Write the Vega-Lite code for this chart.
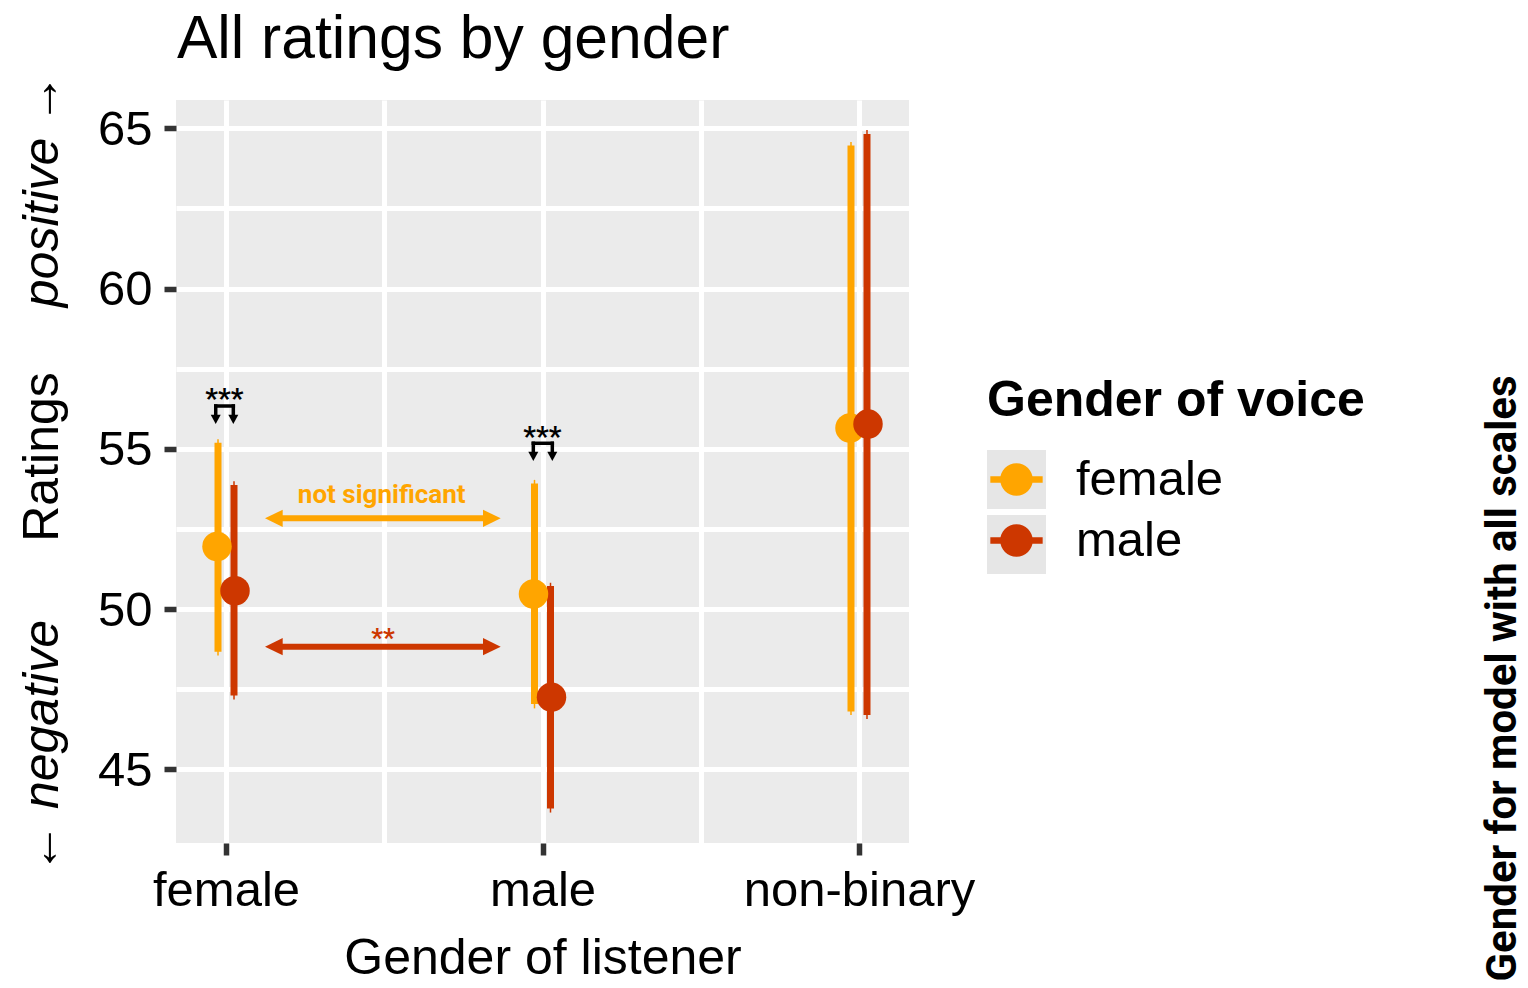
{
  "$schema": "https://vega.github.io/schema/vega-lite/v6.json",
  "width": 733,
  "height": 743,
  "autosize": {"type": "none"},
  "padding": {"left": 176, "top": 100, "right": 619, "bottom": 145},
  "view": {"fill": "#EBEBEB", "stroke": null},
  "datasets": {
    "ratings": [
      {"listener": "female", "voice": "female", "mean": 51.95, "lo": 48.67, "hi": 55.19, "lo_outer": 48.55, "hi_outer": 55.30},
      {"listener": "female", "voice": "male", "mean": 50.57, "lo": 47.30, "hi": 53.87, "lo_outer": 47.18, "hi_outer": 53.99},
      {"listener": "male", "voice": "female", "mean": 50.47, "lo": 47.04, "hi": 53.92, "lo_outer": 46.90, "hi_outer": 54.03},
      {"listener": "male", "voice": "male", "mean": 47.25, "lo": 43.78, "hi": 50.72, "lo_outer": 43.65, "hi_outer": 50.82},
      {"listener": "non-binary", "voice": "female", "mean": 55.65, "lo": 46.80, "hi": 64.46, "lo_outer": 46.69, "hi_outer": 64.57},
      {"listener": "non-binary", "voice": "male", "mean": 55.77, "lo": 46.69, "hi": 64.82, "lo_outer": 46.57, "hi_outer": 64.95}
    ],
    "arrows": [
      {"voice": "female", "x": 1.1512, "x2": 1.84, "y": 52.83},
      {"voice": "male", "x": 1.1512, "x2": 1.84, "y": 48.825}
    ],
    "arrowHeads": [
      {"voice": "female", "side": "left", "x": 1.1512, "y": 52.83},
      {"voice": "female", "side": "right", "x": 1.84, "y": 52.83},
      {"voice": "male", "side": "left", "x": 1.1512, "y": 48.825},
      {"voice": "male", "side": "right", "x": 1.84, "y": 48.825}
    ],
    "arrowLabels": [
      {"voice": "female", "label": "not significant", "x": 1.492, "y": 53.30},
      {"voice": "male", "label": "**", "x": 1.496, "y": 48.80}
    ],
    "stars": [
      {"label": "***", "x": 0.9946, "y": 56.27},
      {"label": "***", "x": 1.9994, "y": 55.08}
    ],
    "brackets": [
      {"x": 0.9675, "x2": 1.0231, "y": 56.335, "y2": 56.335},
      {"x": 0.9675, "x2": 0.9675, "y": 56.335, "y2": 56.06},
      {"x": 1.0231, "x2": 1.0231, "y": 56.335, "y2": 56.06},
      {"x": 1.971, "x2": 2.031, "y": 55.172, "y2": 55.172},
      {"x": 1.971, "x2": 1.971, "y": 55.172, "y2": 54.91},
      {"x": 2.031, "x2": 2.031, "y": 55.172, "y2": 54.91}
    ],
    "bracketHeads": [
      {"x": 0.9675, "y": 55.919},
      {"x": 1.0231, "y": 55.919},
      {"x": 1.971, "y": 54.765},
      {"x": 2.031, "y": 54.765}
    ],
    "keys": [
      {"key": "female"},
      {"key": "male"}
    ]
  },
  "layer": [
    {
      "data": {"name": "ratings"},
      "mark": {"type": "rule", "strokeWidth": 1.5},
      "encoding": {
        "x": {"field": "listener", "type": "nominal", "scale": {"type": "point", "domain": ["female", "male", "non-binary"], "padding": 0.158},
              "axis": {"orient": "bottom", "title": "Gender of listener", "labelAngle": 0, "labelPadding": 50, "labelBaseline": "alphabetic", "titleY": 130, "titleBaseline": "alphabetic", "grid": true}},
        "xOffset": {"field": "voice", "type": "nominal", "scale": {"type": "point", "domain": ["female", "male"], "range": [-8, 8], "padding": 0}},
        "y": {"field": "lo_outer", "type": "quantitative", "scale": {"domain": [42.70, 65.883], "nice": false, "zero": false},
              "axis": {"orient": "left", "title": "Ratings", "values": [45, 50, 55, 60, 65], "grid": true, "labelPadding": 12, "labelOffset": 1, "titleX": -119, "titleY": 356.5, "titleAngle": 270, "titleAlign": "center", "titleBaseline": "alphabetic"}},
        "y2": {"field": "hi_outer"},
        "color": {"field": "voice", "type": "nominal", "scale": {"domain": ["female", "male"], "range": ["#FFA500", "#CD3700"]}}
      }
    },
    {
      "data": {"name": "ratings"},
      "mark": {"type": "rule", "strokeWidth": 7, "strokeCap": "butt"},
      "encoding": {
        "x": {"field": "listener", "type": "nominal", "scale": {"type": "point", "domain": ["female", "male", "non-binary"], "padding": 0.158}, "axis": null},
        "xOffset": {"field": "voice", "type": "nominal", "scale": {"type": "point", "domain": ["female", "male"], "range": [-8, 8], "padding": 0}},
        "y": {"field": "lo", "type": "quantitative", "scale": {"domain": [42.70, 65.883], "nice": false, "zero": false},
              "axis": {"orient": "left", "values": [47.5, 52.5, 57.5, 62.5], "grid": true, "labels": false, "ticks": false, "domain": false, "title": null}},
        "y2": {"field": "hi"},
        "color": {"field": "voice", "type": "nominal"}
      }
    },
    {
      "data": {"name": "ratings"},
      "mark": {"type": "point", "filled": true, "opacity": 1, "size": 870, "strokeWidth": 0},
      "encoding": {
        "x": {"field": "listener", "type": "nominal", "scale": {"type": "point", "domain": ["female", "male", "non-binary"], "padding": 0.158}, "axis": null},
        "xOffset": {"field": "voice", "type": "nominal", "scale": {"type": "point", "domain": ["female", "male"], "range": [-9, 9], "padding": 0}},
        "y": {"field": "mean", "type": "quantitative", "scale": {"domain": [42.70, 65.883], "nice": false, "zero": false}, "axis": null},
        "color": {"field": "voice", "type": "nominal",
                  "legend": {"title": "Gender of voice", "orient": "none", "legendX": 811, "legendY": 276, "zindex": 1,
                             "symbolType": "M -0.887 -0.113 L 0.887 -0.113 L 0.887 0.113 L -0.887 0.113 Z M 0.553 0 A 0.553 0.553 0 1 1 -0.553 0 A 0.553 0.553 0 1 1 0.553 0 Z",
                             "symbolSize": 3481, "symbolStrokeWidth": 0, "rowPadding": 6, "labelOffset": 30, "titlePadding": 24, "padding": 0,
                             "titleLimit": 1000, "labelLimit": 1000,
                             "encode": {"symbols": {"update": {"fill": {"scale": "color", "field": "value"}, "opacity": {"value": 1}, "stroke": {"value": "transparent"}}},
                                        "labels": {"update": {"dy": {"value": 5}}}}}}
      }
    },
    {
      "data": {"name": "arrows"},
      "mark": {"type": "rule", "strokeWidth": 6, "strokeCap": "butt"},
      "encoding": {
        "x": {"field": "x", "type": "quantitative", "scale": {"domain": [0.842, 3.158], "nice": false, "zero": false},
              "axis": {"orient": "bottom", "values": [1.5, 2.5], "grid": true, "labels": false, "ticks": false, "domain": false, "title": null}},
        "x2": {"field": "x2"},
        "y": {"field": "y", "type": "quantitative", "scale": {"domain": [42.70, 65.883], "nice": false, "zero": false},
              "axis": {"orient": "left", "title": "positive →", "titleFontStyle": "italic", "labels": false, "ticks": false, "grid": false, "domain": false, "titleX": -119, "titleY": 90, "titleAngle": 270, "titleAlign": "center", "titleBaseline": "alphabetic"}},
        "color": {"field": "voice", "type": "nominal"}
      }
    },
    {
      "data": {"name": "arrowHeads"},
      "transform": [{"filter": "datum.side === 'left'"}],
      "mark": {"type": "point", "filled": true, "opacity": 1, "strokeWidth": 0, "size": 313, "shape": "M -1 0 L 1 -0.98 L 1 0.98 Z"},
      "encoding": {
        "x": {"field": "x", "type": "quantitative", "scale": {"domain": [0.842, 3.158], "nice": false, "zero": false}, "axis": null},
        "y": {"field": "y", "type": "quantitative", "scale": {"domain": [42.70, 65.883], "nice": false, "zero": false},
              "axis": {"orient": "left", "title": "← negative", "titleFontStyle": "italic", "labels": false, "ticks": false, "grid": false, "domain": false, "titleX": -119, "titleY": 646, "titleAngle": 270, "titleAlign": "center", "titleBaseline": "alphabetic"}},
        "color": {"field": "voice", "type": "nominal"}
      }
    },
    {
      "data": {"name": "arrowHeads"},
      "transform": [{"filter": "datum.side === 'right'"}],
      "mark": {"type": "point", "filled": true, "opacity": 1, "strokeWidth": 0, "size": 313, "shape": "M 1 0 L -1 -0.98 L -1 0.98 Z"},
      "encoding": {
        "x": {"field": "x", "type": "quantitative", "scale": {"domain": [0.842, 3.158], "nice": false, "zero": false}, "axis": null},
        "y": {"field": "y", "type": "quantitative", "scale": {"domain": [42.70, 65.883], "nice": false, "zero": false},
              "axis": {"orient": "right", "title": "Gender for model with all scales", "titleFont": "Roboto", "titleFontWeight": "bold", "titleFontSize": 42, "labels": false, "ticks": false, "grid": false, "domain": false, "titleX": 606, "titleY": 578, "titleAngle": 270, "titleAlign": "center", "titleBaseline": "alphabetic"}},
        "color": {"field": "voice", "type": "nominal"}
      }
    },
    {
      "data": {"name": "brackets"},
      "mark": {"type": "rule", "strokeWidth": 3.5, "strokeCap": "square", "color": "#000000"},
      "encoding": {
        "x": {"field": "x", "type": "quantitative", "scale": {"domain": [0.842, 3.158], "nice": false, "zero": false}, "axis": null},
        "x2": {"field": "x2"},
        "y": {"field": "y", "type": "quantitative", "scale": {"domain": [42.70, 65.883], "nice": false, "zero": false}, "axis": null},
        "y2": {"field": "y2"}
      }
    },
    {
      "data": {"name": "bracketHeads"},
      "mark": {"type": "point", "filled": true, "opacity": 1, "strokeWidth": 0, "size": 100, "color": "#000000", "shape": "M 0 0.93 L -1 -0.93 L 1 -0.93 Z"},
      "encoding": {
        "x": {"field": "x", "type": "quantitative", "scale": {"domain": [0.842, 3.158], "nice": false, "zero": false}, "axis": null},
        "y": {"field": "y", "type": "quantitative", "scale": {"domain": [42.70, 65.883], "nice": false, "zero": false}, "axis": null}
      }
    },
    {
      "data": {"name": "arrowLabels"},
      "mark": {"type": "text", "font": "Roboto", "fontWeight": "bold", "fontSize": 26, "align": "center", "baseline": "alphabetic"},
      "encoding": {
        "x": {"field": "x", "type": "quantitative", "scale": {"domain": [0.842, 3.158], "nice": false, "zero": false}, "axis": null},
        "y": {"field": "y", "type": "quantitative", "scale": {"domain": [42.70, 65.883], "nice": false, "zero": false}, "axis": null},
        "text": {"field": "label"},
        "color": {"field": "voice", "type": "nominal"}
      }
    },
    {
      "data": {"name": "stars"},
      "mark": {"type": "text", "font": "Roboto", "fontWeight": "bold", "fontSize": 28, "align": "center", "baseline": "alphabetic", "color": "#000000"},
      "encoding": {
        "x": {"field": "x", "type": "quantitative", "scale": {"domain": [0.842, 3.158], "nice": false, "zero": false}, "axis": null},
        "y": {"field": "y", "type": "quantitative", "scale": {"domain": [42.70, 65.883], "nice": false, "zero": false}, "axis": null},
        "text": {"field": "label"}
      }
    },
    {
      "data": {"values": [{}]},
      "mark": {"type": "text", "text": "All ratings by gender", "font": "Liberation Sans", "fontSize": 60.6, "align": "left", "baseline": "alphabetic", "color": "#000000"},
      "encoding": {
        "x": {"datum": 0.845, "type": "quantitative", "scale": {"domain": [0.842, 3.158], "nice": false, "zero": false}, "axis": null},
        "y": {"datum": 67.19, "type": "quantitative", "scale": {"domain": [42.70, 65.883], "nice": false, "zero": false}, "axis": null}
      }
    },
    {
      "data": {"name": "keys"},
      "mark": {"type": "point", "filled": true, "opacity": 0, "color": "#E6E6E6"},
      "encoding": {
        "shape": {"field": "key", "type": "nominal", "scale": {"range": ["square", "square"]},
                  "legend": {"title": "Gender of voice", "orient": "none", "legendX": 811, "legendY": 276, "zindex": 0,
                             "symbolType": "square", "symbolSize": 3481, "symbolStrokeWidth": 0, "rowPadding": 6, "labelOffset": 30, "titlePadding": 24, "padding": 0,
                             "titleLimit": 1000, "labelLimit": 1000, "titleOpacity": 0, "labelExpr": "''",
                             "encode": {"symbols": {"update": {"fill": {"value": "#E6E6E6"}, "opacity": {"value": 1}, "stroke": {"value": "transparent"}}}}}}
      }
    }
  ],
  "resolve": {
    "scale": {"x": "independent", "xOffset": "independent", "shape": "independent"},
    "axis": {"x": "independent", "y": "independent"}
  },
  "config": {
    "font": "Liberation Sans",
    "view": {"fill": "#EBEBEB", "stroke": null},
    "axis": {
      "domain": false,
      "gridColor": "#FFFFFF",
      "gridWidth": 5,
      "gridOpacity": 1,
      "tickColor": "#333333",
      "tickWidth": 5.5,
      "tickSize": 12,
      "labelColor": "#000000",
      "labelFontSize": 49,
      "labelFont": "Liberation Sans",
      "labelLimit": 1000,
      "titleColor": "#000000",
      "titleFontSize": 50,
      "titleFont": "Liberation Sans",
      "titleFontWeight": "normal",
      "titleLimit": 2000
    },
    "legend": {
      "labelFontSize": 49,
      "labelFont": "Liberation Sans",
      "labelColor": "#000000",
      "titleFontSize": 50,
      "titleFont": "Liberation Sans",
      "titleFontWeight": "bold",
      "titleColor": "#000000"
    }
  }
}
